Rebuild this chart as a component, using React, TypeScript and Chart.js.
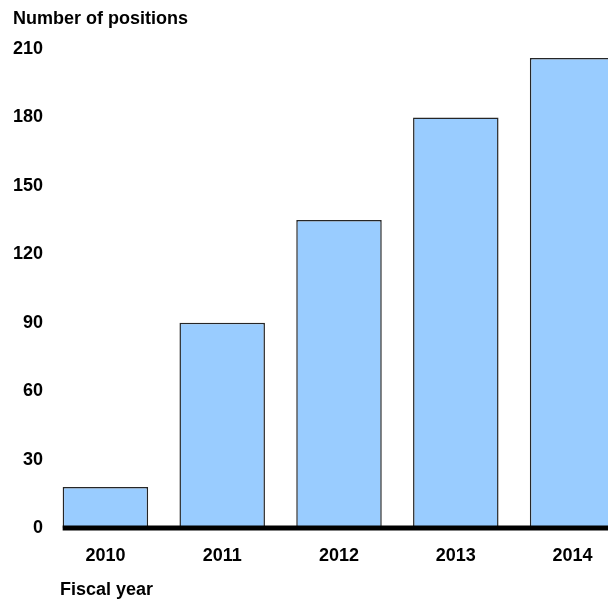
import React, { useEffect, useRef } from "react";
import { Chart, registerables } from "chart.js";

Chart.register(...registerables);

const categories = ["2010", "2011", "2012", "2013", "2014"];
const positions = [18, 90, 135, 180, 206];
const yTicks = [0, 30, 60, 90, 120, 150, 180, 210];
const yAxisTitle = "Number of positions";
const xAxisTitle = "Fiscal year";

const FONT = "'Liberation Sans', Arial, sans-serif";

const decorPlugin = {
  id: "decor",
  afterDatasetsDraw(chart: any) {
    const { ctx, chartArea } = chart;
    const meta = chart.getDatasetMeta(0);
    const first = meta.data[0] as any;
    const y0 = chart.scales.y.getPixelForValue(0);
    const startX = first.x - first.width / 2;
    ctx.save();
    ctx.fillStyle = "#000";
    ctx.fillRect(startX, y0 - 2.5, chartArea.right - startX + 20, 5);
    ctx.restore();
  },
  afterDraw(chart: any) {
    const { ctx } = chart;
    ctx.save();
    ctx.fillStyle = "#000";
    ctx.font = `bold 18px ${FONT}`;
    ctx.textAlign = "left";
    ctx.textBaseline = "alphabetic";
    ctx.fillText(yAxisTitle, 13, 23.5);
    ctx.fillText(xAxisTitle, 60, 594.5);
    ctx.restore();
  },
};

export default function App() {
  const ref = useRef<HTMLCanvasElement | null>(null);

  useEffect(() => {
    document.body.style.margin = "0";
    document.body.style.overflow = "hidden";
    const canvas = ref.current;
    if (!canvas) return;
    const chart = new Chart(canvas, {
      type: "bar",
      data: {
        labels: categories,
        datasets: [
          {
            data: positions,
            backgroundColor: "#99CCFF",
            borderColor: "#262626",
            borderWidth: 1.5,
            borderSkipped: false,
            categoryPercentage: 1,
            barPercentage: 0.732,
          },
        ],
      },
      plugins: [decorPlugin],
      options: {
        animation: false,
        responsive: false,
        devicePixelRatio: 1,
        layout: { padding: { top: 49, left: 0, right: 0, bottom: 0 } },
        plugins: {
          legend: { display: false },
          tooltip: { enabled: false },
          title: { display: false },
        },
        scales: {
          x: {
            offset: true,
            grid: { display: false, drawTicks: false },
            border: { display: false },
            ticks: {
              color: "#000",
              padding: 17.5,
              font: { family: FONT, size: 18, weight: "bold" },
            },
            afterFit: (scale: any) => {
              scale.height = 71;
            },
          },
          y: {
            min: 0,
            max: 210,
            grid: { display: false, drawTicks: false },
            border: { display: false },
            afterBuildTicks: (scale: any) => {
              scale.ticks = yTicks.map((v) => ({ value: v }));
            },
            ticks: {
              color: "#000",
              padding: 4,
              stepSize: 30,
              font: { family: FONT, size: 18, weight: "bold" },
            },
            afterFit: (scale: any) => {
              scale.width = 47;
            },
          },
        },
      },
    });
    return () => chart.destroy();
  }, []);

  return (
    <div style={{ width: 608, height: 599, overflow: "hidden", position: "relative", background: "#fff" }}>
      <canvas ref={ref} width={631} height={599} style={{ display: "block" }} />
    </div>
  );
}
